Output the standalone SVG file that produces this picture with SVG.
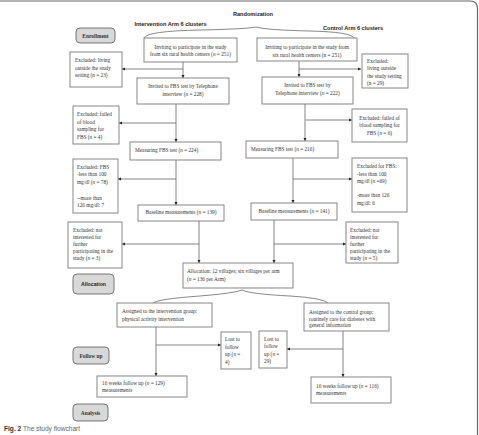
<svg xmlns="http://www.w3.org/2000/svg" width="479" height="435" viewBox="0 0 479 435">
<style>
.b{fill:#fff;stroke:#7a7a7a;stroke-width:0.9}
.r{fill:#d8d8d8;stroke:#6a6a6a;stroke-width:0.9}
.t{font-family:"Liberation Serif",serif;font-size:5.3px;fill:#333}
.c{text-anchor:middle}
.h{font-family:"Liberation Sans",sans-serif;font-size:5.6px;font-weight:bold;fill:#222}
.hb{font-family:"Liberation Serif",serif;font-size:5.4px;font-weight:bold;fill:#333;text-anchor:middle}
.ln{fill:none;stroke:#666;stroke-width:0.8}
.br{fill:none;stroke:#555;stroke-width:0.7}
</style>
<defs>
<marker id="ah" viewBox="0 0 6 6" refX="6" refY="3" markerWidth="4" markerHeight="4" orient="auto">
<path d="M0,0 L6,3 L0,6 Z" fill="#222"/>
</marker>
</defs>
<rect width="479" height="435" fill="#fff"/>
<path d="M0,1 H470 Q477.5,1 477.5,8.5 V435" fill="none" stroke="#666" stroke-width="1.2"/>

<g id="titles">
<text class="h c" x="253" y="16">Randomization</text>
<text class="h c" x="170.5" y="26">Intervention Arm 6 clusters</text>
<text class="h c" x="353" y="30">Control Arm 6 clusters</text>
</g>

<g id="stage-enrollment"><rect class="r" x="76" y="28" width="39" height="15" rx="4"/><text class="hb" x="95.5" y="37.5">Enrollment</text></g>
<g id="stage-allocation"><rect class="r" x="73" y="274" width="41" height="20" rx="4"/><text class="h c" x="93.5" y="286" style="font-size:5.2px">Allocation</text></g>
<g id="stage-followup"><rect class="r" x="73" y="347" width="36" height="17" rx="4"/><text class="hb" x="91" y="357.5">Follow up</text></g>
<g id="stage-analysis"><rect class="r" x="73" y="404" width="35" height="17" rx="4"/><text class="hb" x="90.5" y="414.5">Analysis</text></g>

<g id="connectors">
<path class="br" d="M144,38 Q147,31 200,30 Q247,29 256,27 Q266,30 310,31 Q351,32 354,38"/>
<path class="br" d="M153,303 Q158,299 200,296 Q236,293 242,290 Q250,294 290,296 Q323,298 328,303"/>
<!-- left column -->
<line class="ln" x1="183" y1="62" x2="183" y2="78" marker-end="url(#ah)"/>
<line class="ln" x1="183" y1="69" x2="122" y2="69" stroke-width="1.6" stroke="#999" marker-end="url(#ah)"/>
<line class="ln" x1="176" y1="104" x2="176" y2="142" marker-end="url(#ah)"/>
<line class="ln" x1="176" y1="123" x2="119" y2="123" marker-end="url(#ah)"/>
<line class="ln" x1="176" y1="160" x2="176" y2="205" marker-end="url(#ah)"/>
<line class="ln" x1="176" y1="179" x2="118" y2="179" marker-end="url(#ah)"/>
<line class="ln" x1="199" y1="221" x2="199" y2="263" marker-end="url(#ah)"/>
<line class="ln" x1="199" y1="244" x2="122" y2="244" marker-end="url(#ah)"/>
<!-- right column -->
<line class="ln" x1="299" y1="61" x2="299" y2="77" marker-end="url(#ah)"/>
<line class="ln" x1="299" y1="69" x2="361" y2="69" stroke-width="1.6" stroke="#999" marker-end="url(#ah)"/>
<line class="ln" x1="305" y1="104" x2="305" y2="141" marker-end="url(#ah)"/>
<line class="ln" x1="306" y1="120" x2="352" y2="120" marker-end="url(#ah)"/>
<line class="ln" x1="293" y1="158" x2="293" y2="203" marker-end="url(#ah)"/>
<line class="ln" x1="293" y1="179" x2="352" y2="179" marker-end="url(#ah)"/>
<line class="ln" x1="274" y1="220" x2="274" y2="263" marker-end="url(#ah)"/>
<line class="ln" x1="274" y1="244" x2="346" y2="244" marker-end="url(#ah)"/>
<!-- follow up -->
<line class="ln" x1="156" y1="327" x2="156" y2="376" marker-end="url(#ah)"/>
<line class="ln" x1="156" y1="345" x2="221" y2="345" marker-end="url(#ah)"/>
<line class="ln" x1="343" y1="331" x2="343" y2="377" marker-end="url(#ah)"/>
<line class="ln" x1="343" y1="349" x2="287" y2="349" marker-end="url(#ah)"/>
</g>

<g id="inviting-left"><rect class="b" x="144" y="38" width="93" height="24"/>
<text class="t c" x="190.5" y="48.5">Inviting to participate in the study</text>
<text class="t c" x="190.5" y="56">from six rural health centers (<tspan font-style="italic">n</tspan> = 251)</text></g>
<g id="inviting-right"><rect class="b" x="257" y="38" width="100" height="23"/>
<text class="t c" x="307" y="48.5">Inviting to participate in the study from</text>
<text class="t c" x="307" y="56.5">six rural health centers (n = 251)</text></g>

<g id="excl1-left"><rect class="b" x="70" y="52" width="52" height="35"/>
<text class="t" x="75" y="62">Excluded: living</text>
<text class="t" x="75" y="69.5">outside the study</text>
<text class="t" x="75" y="77">setting (n = 23)</text></g>
<g id="excl1-right"><rect class="b" x="362" y="54" width="46" height="34"/>
<text class="t" x="367" y="62.5">Excluded:</text>
<text class="t" x="367" y="70">living outside</text>
<text class="t" x="367" y="77.5">the study setting</text>
<text class="t" x="367" y="85">(n = 29)</text></g>

<g id="invited-left"><rect class="b" x="137" y="78" width="92" height="26"/>
<text class="t c" x="183" y="87.5">Invited to FBS test by Telephone</text>
<text class="t c" x="183" y="96">interview (<tspan font-style="italic">n</tspan> = 228)</text></g>
<g id="invited-right"><rect class="b" x="262" y="77" width="91" height="27"/>
<text class="t c" x="307.5" y="87">Invited to FBS test by</text>
<text class="t c" x="307.5" y="95">Telephone interview (<tspan font-style="italic">n</tspan> = 222)</text></g>

<g id="excl2-left"><rect class="b" x="73" y="106" width="46" height="38"/>
<text class="t" x="77" y="116">Excluded: failed</text>
<text class="t" x="77" y="123.5">of blood</text>
<text class="t" x="77" y="131">sampling for</text>
<text class="t" x="77" y="138.5">FBS (<tspan font-style="italic">n</tspan> = 4)</text></g>
<g id="excl2-right"><rect class="b" x="352" y="109" width="55" height="33"/>
<text class="t c" x="379.5" y="119.5">Excluded: failed of</text>
<text class="t c" x="379.5" y="127">blood sampling for</text>
<text class="t c" x="379.5" y="134.5">FBS (<tspan font-style="italic">n</tspan> = 6)</text></g>

<g id="measuring-left"><rect class="b" x="130" y="142" width="91" height="18"/>
<text class="t" x="135" y="152">Measuring FBS test (<tspan font-style="italic">n</tspan> = 224)</text></g>
<g id="measuring-right"><rect class="b" x="246" y="141" width="92" height="17"/>
<text class="t" x="251" y="150.5">Measuring FBS test (<tspan font-style="italic">n</tspan> = 216)</text></g>

<g id="excl3-left"><rect class="b" x="73" y="159" width="45" height="54"/>
<text class="t" x="77" y="168.5">Excluded: FBS</text>
<text class="t" x="77" y="176">-less than 100</text>
<text class="t" x="77" y="183.5">mg/dl (<tspan font-style="italic">n</tspan> = 78)</text>
<text class="t" x="77" y="199.5">--more than</text>
<text class="t" x="77" y="207">126 mg/dl: 7</text></g>
<g id="excl3-right"><rect class="b" x="352" y="158" width="55" height="54"/>
<text class="t" x="357" y="168">Excluded for FBS:</text>
<text class="t" x="357" y="175.5">-less than 100</text>
<text class="t" x="357" y="183">mg/dl (<tspan font-style="italic">n</tspan> =69)</text>
<text class="t" x="357" y="197">-more than 126</text>
<text class="t" x="357" y="204.5">mg/dl: 6</text></g>

<g id="baseline-left"><rect class="b" x="138" y="205" width="86" height="16"/>
<text class="t c" x="181" y="214">Baseline measurements (<tspan font-style="italic">n</tspan> = 139)</text></g>
<g id="baseline-right"><rect class="b" x="251" y="203" width="86" height="17"/>
<text class="t c" x="294" y="213">Baseline measurements (<tspan font-style="italic">n</tspan> = 141)</text></g>

<g id="excl4-left"><rect class="b" x="68" y="222" width="54" height="46"/>
<text class="t" x="73" y="232">Excluded: not</text>
<text class="t" x="73" y="239">interested for</text>
<text class="t" x="73" y="246">further</text>
<text class="t" x="73" y="253">participating in the</text>
<text class="t" x="73" y="260">study (<tspan font-style="italic">n</tspan> = 3)</text></g>
<g id="excl4-right"><rect class="b" x="346" y="222" width="52" height="41"/>
<text class="t" x="350" y="232">Excluded: not</text>
<text class="t" x="350" y="239">interested for</text>
<text class="t" x="350" y="246">further</text>
<text class="t" x="350" y="253">participating in the</text>
<text class="t" x="350" y="260">study (<tspan font-style="italic">n</tspan> = 5)</text></g>

<g id="allocation"><rect class="b" x="183" y="263" width="110" height="25"/>
<text class="t" x="187" y="273">Allocation: 12 villages; six villages per arm</text>
<text class="t" x="187" y="281">(<tspan font-style="italic">n</tspan> = 136 per Arm)</text></g>

<g id="assigned-left"><rect class="b" x="117" y="303" width="95" height="24"/>
<text class="t" x="122" y="313">Assigned to the intervention group:</text>
<text class="t" x="122" y="321">physical activity intervention</text></g>
<g id="assigned-right"><rect class="b" x="304" y="303" width="85" height="28"/>
<text class="t" x="309" y="313.5">Assigned to the control group:</text>
<text class="t" x="309" y="320.5">routinely care for diabetes with</text>
<text class="t" x="309" y="327">general information</text></g>

<g id="lost-left"><rect class="b" x="221" y="332" width="30" height="37"/>
<text class="t" x="225" y="341">Lost to</text>
<text class="t" x="225" y="348.5">follow</text>
<text class="t" x="225" y="356">up (<tspan font-style="italic">n</tspan> =</text>
<text class="t" x="225" y="363.5">4)</text></g>
<g id="lost-right"><rect class="b" x="259" y="331" width="28" height="37"/>
<text class="t" x="264" y="340.5">Lost to</text>
<text class="t" x="264" y="348">follow</text>
<text class="t" x="264" y="355.5">up (<tspan font-style="italic">n</tspan> =</text>
<text class="t" x="264" y="363">29)</text></g>

<g id="followup-left"><rect class="b" x="97" y="376" width="90" height="21"/>
<text class="t" x="102" y="384.5">16 weeks follow up (<tspan font-style="italic">n</tspan> = 129)</text>
<text class="t" x="102" y="392">measurements</text></g>
<g id="followup-right"><rect class="b" x="311" y="377" width="80" height="26"/>
<text class="t" x="316" y="387.5">16 weeks follow up (<tspan font-style="italic">n</tspan> = 116)</text>
<text class="t" x="316" y="395">measurements</text></g>

<text x="4" y="431" style="font-family:'Liberation Sans',sans-serif;font-size:6.6px;fill:#333"><tspan font-weight="bold">Fig. 2</tspan><tspan fill="#666"> The study flowchart</tspan></text>
</svg>
